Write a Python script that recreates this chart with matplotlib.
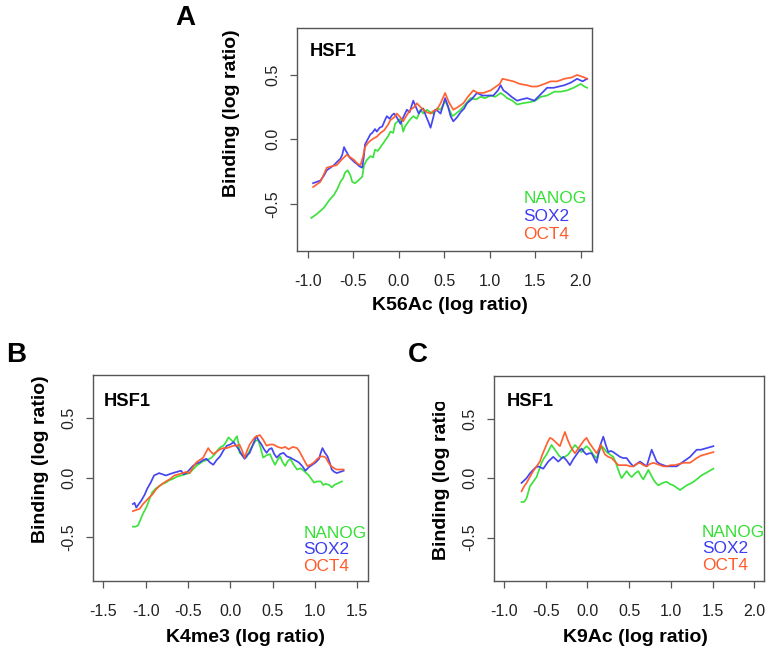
"""HSF1 binding vs histone marks: three panels (A K56Ac, B K4me3, C K9Ac)."""
import numpy as np
import matplotlib
matplotlib.use("Agg")
import matplotlib.pyplot as plt
from matplotlib.transforms import Bbox, TransformedBbox

plt.rcParams["font.family"] = ["Liberation Sans", "DejaVu Sans"]
plt.rcParams["axes.unicode_minus"] = False

VERDE, AZUL, LARANJA = "#33e033", "#3c3cf0", "#ff5a2a"
CINZA = "#555555"

# --- dados: (x, y) por série ---
a_nanog = [(-0.96,-0.61),(-0.90,-0.58),(-0.82,-0.53),(-0.76,-0.47),(-0.71,-0.43),(-0.67,-0.38),
           (-0.64,-0.33),(-0.61,-0.30),(-0.59,-0.26),(-0.56,-0.24),(-0.53,-0.28),(-0.51,-0.33),
           (-0.48,-0.34),(-0.46,-0.33),(-0.43,-0.31),(-0.40,-0.29),(-0.38,-0.20),(-0.35,-0.16),
           (-0.31,-0.13),(-0.28,-0.14),(-0.26,-0.08),(-0.23,-0.09),(-0.20,-0.06),(-0.17,-0.03),
           (-0.15,-0.01),(-0.12,0.02),(-0.09,0.06),(-0.06,0.05),(-0.04,0.12),(-0.01,0.14),
           (0.02,0.16),(0.05,0.06),(0.07,0.10),(0.09,0.12),(0.12,0.15),(0.16,0.18),(0.20,0.16),
           (0.24,0.23),(0.27,0.20),(0.31,0.23),(0.35,0.21),(0.38,0.20),(0.42,0.24),(0.46,0.23),
           (0.49,0.27),(0.51,0.30),(0.55,0.24),(0.59,0.18),(0.63,0.20),(0.68,0.23),(0.73,0.27),
           (0.79,0.32),(0.85,0.31),(0.90,0.33),(0.95,0.32),(1.01,0.34),(1.06,0.33),(1.12,0.36),
           (1.16,0.34),(1.19,0.32),(1.25,0.30),(1.30,0.27),(1.36,0.28),(1.45,0.29),(1.50,0.30),
           (1.56,0.33),(1.63,0.34),(1.71,0.37),(1.78,0.37),(1.85,0.38),(1.92,0.40),(2.00,0.43),
           (2.04,0.41),(2.07,0.40)]
a_sox2 = [(-0.94,-0.34),(-0.90,-0.33),(-0.86,-0.32),(-0.82,-0.28),(-0.79,-0.24),(-0.75,-0.22),
          (-0.71,-0.20),(-0.67,-0.17),(-0.64,-0.15),(-0.62,-0.12),(-0.60,-0.06),(-0.58,-0.09),
          (-0.57,-0.10),(-0.54,-0.14),(-0.51,-0.16),(-0.48,-0.18),(-0.46,-0.19),(-0.43,-0.21),
          (-0.40,-0.22),(-0.38,-0.12),(-0.37,-0.04),(-0.34,0.00),(-0.31,0.04),(-0.29,0.05),
          (-0.26,0.08),(-0.24,0.06),(-0.21,0.09),(-0.18,0.10),(-0.15,0.15),(-0.13,0.18),
          (-0.10,0.16),(-0.07,0.19),(-0.05,0.20),(-0.02,0.17),(0.02,0.12),(0.05,0.17),(0.09,0.23),
          (0.12,0.21),(0.16,0.30),(0.19,0.25),(0.22,0.20),(0.25,0.23),(0.27,0.24),(0.30,0.18),
          (0.33,0.13),(0.35,0.09),(0.38,0.17),(0.40,0.23),(0.43,0.22),(0.46,0.20),(0.49,0.27),
          (0.51,0.32),(0.54,0.26),(0.57,0.18),(0.60,0.14),(0.64,0.17),(0.68,0.21),(0.72,0.24),
          (0.75,0.28),(0.80,0.31),(0.86,0.36),(0.92,0.34),(0.97,0.34),(1.04,0.34),(1.09,0.38),
          (1.12,0.42),(1.15,0.38),(1.19,0.36),(1.24,0.33),(1.30,0.30),(1.35,0.31),(1.41,0.32),
          (1.49,0.30),(1.56,0.35),(1.63,0.40),(1.70,0.40),(1.76,0.41),(1.82,0.42),(1.89,0.44),
          (1.96,0.47),(2.02,0.45),(2.07,0.47)]
a_oct4 = [(-0.94,-0.37),(-0.90,-0.35),(-0.86,-0.33),(-0.82,-0.27),(-0.79,-0.22),(-0.74,-0.21),
          (-0.68,-0.20),(-0.63,-0.16),(-0.57,-0.12),(-0.53,-0.14),(-0.49,-0.16),(-0.45,-0.19),
          (-0.42,-0.20),(-0.39,-0.13),(-0.37,-0.06),(-0.34,-0.03),(-0.31,-0.01),(-0.27,0.01),
          (-0.24,0.02),(-0.20,0.05),(-0.16,0.07),(-0.12,0.11),(-0.09,0.15),(-0.05,0.17),
          (-0.02,0.20),(0.02,0.17),(0.05,0.14),(0.09,0.19),(0.13,0.23),(0.17,0.25),(0.20,0.28),
          (0.24,0.25),(0.27,0.23),(0.31,0.21),(0.35,0.20),(0.38,0.22),(0.42,0.23),(0.46,0.28),
          (0.51,0.36),(0.55,0.29),(0.60,0.23),(0.65,0.25),(0.71,0.28),(0.76,0.33),(0.82,0.38),
          (0.87,0.36),(0.93,0.36),(0.97,0.37),(1.01,0.38),(1.07,0.41),(1.11,0.43),(1.14,0.47),
          (1.20,0.46),(1.26,0.45),(1.33,0.43),(1.41,0.42),(1.46,0.41),(1.52,0.41),(1.60,0.43),
          (1.67,0.45),(1.74,0.45),(1.82,0.47),(1.90,0.48),(1.96,0.50),(2.00,0.49),(2.04,0.48),
          (2.07,0.47)]

b_nanog = [(-1.15,-0.41),(-1.12,-0.41),(-1.09,-0.40),(-1.06,-0.35),(-1.03,-0.30),(-1.00,-0.26),
           (-0.98,-0.23),(-0.95,-0.17),(-0.92,-0.12),(-0.88,-0.09),(-0.84,-0.07),(-0.80,-0.05),
           (-0.76,-0.04),(-0.72,-0.02),(-0.68,-0.01),(-0.63,0.01),(-0.58,0.02),(-0.53,0.03),
           (-0.48,0.04),(-0.44,0.07),(-0.40,0.10),(-0.36,0.12),(-0.32,0.14),(-0.27,0.15),
           (-0.22,0.17),(-0.18,0.20),(-0.14,0.24),(-0.11,0.26),(-0.08,0.27),(-0.05,0.30),
           (-0.02,0.34),(0.01,0.32),(0.04,0.30),(0.06,0.33),(0.08,0.35),(0.10,0.28),(0.11,0.21),
           (0.15,0.19),(0.19,0.17),(0.23,0.23),(0.27,0.28),(0.30,0.31),(0.33,0.32),(0.36,0.25),
           (0.39,0.17),(0.43,0.19),(0.47,0.20),(0.50,0.15),(0.53,0.11),(0.56,0.15),(0.59,0.18),
           (0.62,0.13),(0.65,0.10),(0.68,0.14),(0.71,0.16),(0.75,0.11),(0.79,0.07),(0.83,0.08),
           (0.87,0.06),(0.90,0.04),(0.93,0.02),(0.96,-0.01),(0.99,-0.04),(1.03,-0.03),(1.07,-0.03),
           (1.10,-0.06),(1.13,-0.05),(1.17,-0.06),(1.20,-0.08),(1.23,-0.06),(1.26,-0.05),
           (1.29,-0.04),(1.32,-0.03)]
b_sox2 = [(-1.15,-0.22),(-1.13,-0.21),(-1.11,-0.25),(-1.08,-0.22),(-1.05,-0.19),(-1.01,-0.14),
          (-0.98,-0.09),(-0.94,-0.04),(-0.90,0.02),(-0.87,0.03),(-0.84,0.04),(-0.80,0.03),
          (-0.76,0.02),(-0.72,0.03),(-0.68,0.04),(-0.63,0.05),(-0.58,0.06),(-0.55,0.03),
          (-0.52,0.04),(-0.48,0.07),(-0.44,0.10),(-0.40,0.12),(-0.36,0.13),(-0.32,0.15),
          (-0.28,0.16),(-0.24,0.13),(-0.20,0.11),(-0.16,0.15),(-0.12,0.18),(-0.08,0.23),
          (-0.04,0.27),(0.00,0.28),(0.04,0.30),(0.07,0.27),(0.10,0.24),(0.14,0.19),(0.17,0.16),
          (0.20,0.19),(0.23,0.21),(0.27,0.28),(0.31,0.35),(0.34,0.31),(0.37,0.28),(0.40,0.24),
          (0.43,0.21),(0.46,0.24),(0.49,0.25),(0.52,0.20),(0.55,0.17),(0.59,0.20),(0.63,0.21),
          (0.67,0.18),(0.71,0.17),(0.76,0.15),(0.81,0.13),(0.85,0.10),(0.89,0.06),(0.93,0.09),
          (0.97,0.11),(1.01,0.13),(1.05,0.16),(1.07,0.21),(1.09,0.25),(1.12,0.21),(1.15,0.18),
          (1.18,0.12),(1.20,0.07),(1.23,0.05),(1.26,0.04),(1.30,0.05),(1.34,0.06)]
b_oct4 = [(-1.15,-0.28),(-1.11,-0.27),(-1.07,-0.26),(-1.03,-0.22),(-0.99,-0.19),(-0.95,-0.16),
          (-0.92,-0.14),(-0.88,-0.10),(-0.84,-0.07),(-0.80,-0.05),(-0.76,-0.03),(-0.71,-0.01),
          (-0.66,0.02),(-0.61,0.03),(-0.56,0.04),(-0.52,0.05),(-0.48,0.04),(-0.44,0.09),
          (-0.40,0.13),(-0.36,0.15),(-0.32,0.17),(-0.29,0.21),(-0.26,0.25),(-0.23,0.22),
          (-0.20,0.20),(-0.16,0.22),(-0.12,0.24),(-0.08,0.25),(-0.04,0.25),(0.00,0.26),
          (0.04,0.27),(0.08,0.27),(0.11,0.28),(0.14,0.23),(0.17,0.17),(0.20,0.23),(0.23,0.28),
          (0.26,0.31),(0.29,0.34),(0.32,0.35),(0.35,0.36),(0.39,0.32),(0.43,0.27),(0.47,0.28),
          (0.51,0.28),(0.56,0.26),(0.61,0.25),(0.65,0.26),(0.69,0.24),(0.74,0.26),(0.79,0.25),
          (0.82,0.22),(0.85,0.18),(0.88,0.14),(0.91,0.10),(0.95,0.11),(0.99,0.13),(1.03,0.16),
          (1.07,0.18),(1.10,0.18),(1.13,0.17),(1.16,0.13),(1.19,0.10),(1.23,0.08),(1.26,0.07),
          (1.30,0.07),(1.34,0.07)]

c_nanog = [(-0.79,-0.20),(-0.76,-0.20),(-0.73,-0.17),(-0.71,-0.12),(-0.69,-0.07),(-0.65,-0.03),
           (-0.61,0.01),(-0.58,0.07),(-0.55,0.13),(-0.52,0.17),(-0.49,0.20),(-0.46,0.24),
           (-0.43,0.28),(-0.40,0.25),(-0.37,0.22),(-0.34,0.19),(-0.31,0.17),(-0.27,0.18),
           (-0.23,0.20),(-0.19,0.24),(-0.15,0.28),(-0.11,0.25),(-0.07,0.22),(-0.04,0.25),
           (-0.01,0.27),(0.02,0.25),(0.05,0.22),(0.08,0.19),(0.11,0.17),(0.14,0.22),(0.17,0.27),
           (0.20,0.25),(0.23,0.22),(0.27,0.20),(0.31,0.18),(0.34,0.13),(0.37,0.07),(0.39,0.03),
           (0.41,0.00),(0.44,0.03),(0.47,0.06),(0.50,0.03),(0.53,0.01),(0.57,0.04),(0.61,0.06),
           (0.64,0.02),(0.67,-0.01),(0.70,0.03),(0.73,0.07),(0.76,0.03),(0.79,-0.01),(0.82,-0.04),
           (0.85,-0.06),(0.90,-0.04),(0.95,-0.03),(0.99,-0.05),(1.03,-0.06),(1.07,-0.08),
           (1.11,-0.10),(1.15,-0.08),(1.19,-0.06),(1.25,-0.04),(1.31,-0.01),(1.36,0.02),
           (1.41,0.04),(1.46,0.06),(1.51,0.08)]
c_sox2 = [(-0.79,-0.04),(-0.76,-0.02),(-0.73,0.00),(-0.69,0.04),(-0.65,0.07),(-0.62,0.09),
          (-0.59,0.10),(-0.56,0.09),(-0.53,0.08),(-0.50,0.11),(-0.47,0.14),(-0.44,0.16),
          (-0.41,0.18),(-0.38,0.16),(-0.35,0.14),(-0.32,0.16),(-0.29,0.18),(-0.25,0.15),
          (-0.21,0.11),(-0.17,0.16),(-0.13,0.20),(-0.10,0.23),(-0.07,0.25),(-0.04,0.22),
          (-0.01,0.20),(0.02,0.21),(0.05,0.21),(0.08,0.17),(0.11,0.13),(0.13,0.20),(0.15,0.27),
          (0.17,0.31),(0.19,0.35),(0.22,0.28),(0.25,0.22),(0.28,0.23),(0.31,0.22),(0.35,0.20),
          (0.39,0.18),(0.43,0.17),(0.47,0.17),(0.51,0.13),(0.55,0.10),(0.59,0.12),(0.63,0.14),
          (0.67,0.12),(0.71,0.10),(0.74,0.17),(0.77,0.24),(0.80,0.19),(0.83,0.14),(0.87,0.12),
          (0.91,0.11),(0.95,0.10),(0.99,0.10),(1.03,0.10),(1.07,0.10),(1.11,0.12),(1.15,0.14),
          (1.19,0.16),(1.23,0.18),(1.27,0.21),(1.31,0.24),(1.36,0.24),(1.41,0.25),(1.46,0.26),
          (1.51,0.27)]
c_oct4 = [(-0.79,-0.11),(-0.76,-0.07),(-0.73,-0.04),(-0.69,0.01),(-0.65,0.06),(-0.61,0.10),
          (-0.57,0.14),(-0.54,0.20),(-0.51,0.25),(-0.48,0.30),(-0.45,0.34),(-0.42,0.33),
          (-0.39,0.31),(-0.36,0.29),(-0.33,0.27),(-0.30,0.33),(-0.27,0.39),(-0.24,0.33),
          (-0.21,0.28),(-0.18,0.24),(-0.15,0.21),(-0.11,0.25),(-0.07,0.29),(-0.04,0.32),
          (-0.01,0.34),(0.02,0.30),(0.05,0.27),(0.08,0.24),(0.11,0.21),(0.14,0.25),(0.16,0.28),
          (0.19,0.23),(0.21,0.20),(0.25,0.18),(0.29,0.17),(0.33,0.14),(0.37,0.11),(0.42,0.11),
          (0.47,0.11),(0.51,0.10),(0.55,0.10),(0.59,0.12),(0.63,0.13),(0.67,0.11),(0.71,0.10),
          (0.75,0.12),(0.79,0.13),(0.83,0.12),(0.87,0.11),(0.91,0.10),(0.95,0.10),(1.00,0.11),
          (1.05,0.11),(1.10,0.12),(1.15,0.13),(1.19,0.13),(1.23,0.13),(1.27,0.15),(1.31,0.17),
          (1.36,0.19),(1.41,0.20),(1.46,0.21),(1.51,0.22)]

series_names = ["NANOG", "SOX2", "OCT4"]
a_xticks = [-1.0, -0.5, 0.0, 0.5, 1.0, 1.5, 2.0]
b_xticks = [-1.5, -1.0, -0.5, 0.0, 0.5, 1.0, 1.5]
c_xticks = [-1.0, -0.5, 0.0, 0.5, 1.0, 1.5, 2.0]
yticks = [-0.5, 0.0, 0.5]

W, H = 774, 657
fig = plt.figure(figsize=(W / 100, H / 100), dpi=100)


def fx(x):
    return x / W


def fy(y):
    return 1 - y / H


def painel(box, dados, xlim, xticks):
    left, top, right, bottom = box
    ax = fig.add_axes([fx(left), fy(bottom), fx(right - left), (bottom - top) / H])
    for pts, cor in zip(dados, [VERDE, AZUL, LARANJA]):
        xy = np.array(pts)
        ax.plot(xy[:, 0], xy[:, 1], color=cor, lw=1.25, alpha=0.95)
    ax.set_xlim(*xlim)
    ax.set_ylim(-0.864, 0.864)
    ax.set_xticks(xticks)
    ax.set_yticks(yticks)
    ax.set_xticklabels([f"{v:.1f}" for v in xticks])
    ax.set_yticklabels([f"{v:.1f}" for v in yticks])
    for s in ax.spines.values():
        s.set_color(CINZA); s.set_linewidth(1.0)
    ax.tick_params(length=5, width=0.9, color=CINZA, labelsize=11.5, labelcolor="#222222")
    ax.tick_params(axis="x", pad=11.5)
    ax.tick_params(axis="y", pad=7, labelrotation=90)
    for t in ax.get_yticklabels():
        t.set_verticalalignment("center")
    return ax


ax_a = painel((296.7, 28, 591.7, 250.7), [a_nanog, a_sox2, a_oct4], (-1.12, 2.12), a_xticks)
ax_b = painel((92.7, 375, 367.7, 580.7), [b_nanog, b_sox2, b_oct4], (-1.625, 1.625), b_xticks)
ax_c = painel((494, 375.7, 764.3, 580.7), [c_nanog, c_sox2, c_oct4], (-1.12, 2.12), c_xticks)

# rótulos de painel
for letra, (x, y) in zip("ABC", [(185, 18), (16, 355), (418, 355)]):
    fig.text(fx(x), fy(y), letra, fontsize=20, fontweight="bold", ha="center", va="center")

# HSF1
for x, y in [(310, 51.7), (104, 401.7), (506.7, 401.7)]:
    fig.text(fx(x), fy(y), "HSF1", fontsize=13.2, fontweight="bold", ha="left", va="center")

# legendas em texto colorido
for x, y0, dy in [(523.3, 199, 17.7), (303.3, 533.3, 16.7), (701.7, 532.3, 16.5)]:
    for i, (nome, cor) in enumerate(zip(series_names, [VERDE, AZUL, LARANJA])):
        fig.text(fx(x), fy(y0 + i * dy), nome, color=cor, fontsize=12.4, ha="left", va="center")

# eixos
for txt, (x, y) in zip(["K56Ac (log ratio)", "K4me3 (log ratio)", "K9Ac (log ratio)"],
                       [(450, 306), (245.8, 638), (635.5, 637)]):
    fig.text(fx(x), fy(y), txt, fontsize=14, fontweight="bold", ha="center", va="center")

for i, (x, y) in enumerate([(231.7, 113), (41, 459), (441, 476)]):
    t = fig.text(fx(x), fy(y), "Binding (log ratio)", fontsize=14, fontweight="bold",
                 rotation=90, ha="center", va="center")
    if i == 2:
        # no original o painel C corta o fim do rótulo
        t.set_clip_box(TransformedBbox(Bbox([[0.5, 0], [0.62, fy(402)]]), fig.transFigure))
        t.set_clip_on(True)

fig.savefig("out.png", dpi=100)
